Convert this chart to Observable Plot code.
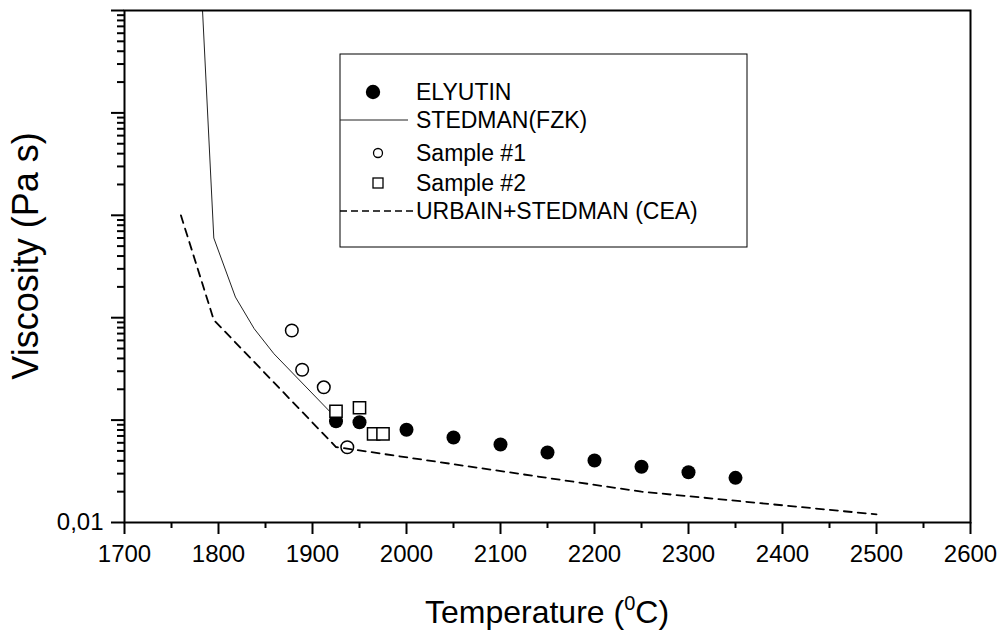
<!DOCTYPE html>
<html>
<head>
<meta charset="utf-8">
<script src="https://cdn.jsdelivr.net/npm/d3@7"></script>
<script src="https://cdn.jsdelivr.net/npm/@observablehq/plot@0.6"></script>
<style>
  html, body { margin: 0; padding: 0; background: white; }
  svg { display: block; }
</style>
</head>
<body>
<div id="chart"></div>
<script>
// ---- data ----
const elyutinT = [1925, 1950, 2000, 2050, 2100, 2150, 2200, 2250, 2300, 2350];
const elyutinV = [0.0975, 0.0954, 0.0804, 0.0676, 0.0578, 0.0482, 0.0403, 0.0350, 0.0310, 0.0273];

const sample1T = [1878, 1889, 1912, 1937];
const sample1V = [0.75, 0.31, 0.209, 0.0543];

const sample2T = [1925, 1950, 1965, 1975];
const sample2V = [0.122, 0.132, 0.0734, 0.0734];

const stedmanT = [1783, 1795, 1818, 1838, 1859, 1925];
const stedmanV = [1000, 6.0, 1.59, 0.78, 0.444, 0.105];

const urbainT = [1760, 1795, 1925, 2250, 2500];
const urbainV = [10, 0.95, 0.0546, 0.020, 0.012];

const xTicksMajor = [1700, 1800, 1900, 2000, 2100, 2200, 2300, 2400, 2500, 2600];
const xTicksMinor = [1750, 1850, 1950, 2050, 2150, 2250, 2350, 2450, 2550];
const yTicksMajor = [0.01, 0.1, 1, 10, 100, 1000];
const yTickLabels = ["0,01", "", "", "", "", ""];

const legendLabels = ["ELYUTIN", "STEDMAN(FZK)", "Sample #1", "Sample #2", "URBAIN+STEDMAN (CEA)"];

// ---- tables ----
const zip = (T, V) => T.map((t, i) => ({t, v: V[i]}));
const elyutin = zip(elyutinT, elyutinV);
const sample1 = zip(sample1T, sample1V);
const sample2 = zip(sample2T, sample2V);
const stedman = zip(stedmanT, stedmanV);
const urbain = zip(urbainT, urbainV);

const yTicksMinor = [];
for (const d of yTicksMajor.slice(0, -1)) for (let k = 2; k <= 9; k++) yTicksMinor.push(+(d * k).toPrecision(3));

const FONT = "Arial, 'Liberation Sans', Helvetica, sans-serif";

const plot = Plot.plot({
  width: 1004,
  height: 632,
  marginLeft: 124,
  marginRight: 34,
  marginTop: 10,
  marginBottom: 110,
  style: {fontFamily: FONT, fontSize: "24px", color: "black", background: "white"},
  x: {domain: [1700, 2600]},
  y: {type: "log", domain: [0.01, 1000]},
  marks: [
    Plot.line(urbain, {x: "t", y: "v", stroke: "black", strokeWidth: 1.8, strokeDasharray: "8,6"}),
    Plot.line(stedman, {x: "t", y: "v", stroke: "#222", strokeWidth: 1}),
    Plot.dot(elyutin, {x: "t", y: "v", r: 7, fill: "black", stroke: "none"}),
    Plot.dot(sample2, {x: "t", y: "v", symbol: "square", r: 6.9, fill: "white", stroke: "black", strokeWidth: 1.5}),
    Plot.dot(sample1, {x: "t", y: "v", r: 6.3, fill: "none", stroke: "black", strokeWidth: 1.5}),
    Plot.axisX({ticks: xTicksMajor, tickSize: 12, tickPadding: 10, tickFormat: d => String(d), strokeWidth: 2, fontSize: 24, label: null}),
    Plot.axisX({ticks: xTicksMinor, tickSize: 6, tickFormat: () => "", strokeWidth: 2, label: null}),
    Plot.axisY({ticks: yTicksMajor, tickSize: 13, tickPadding: 8, tickFormat: d => yTickLabels[yTicksMajor.indexOf(d)], strokeWidth: 2, fontSize: 24, label: null}),
    Plot.axisY({ticks: yTicksMinor, tickSize: 7, tickFormat: () => "", strokeWidth: 2, label: null}),
    Plot.frame({stroke: "black", strokeWidth: 2})
  ]
});

document.getElementById("chart").appendChild(plot);

// ---- axis titles and legend (drawn into the same SVG) ----
const svg = d3.select(plot);

const xt = svg.append("text")
  .attr("x", 547).attr("y", 623)
  .attr("text-anchor", "middle")
  .attr("font-family", FONT).attr("font-size", 32).attr("fill", "black");
xt.append("tspan").text("Temperature (");
xt.append("tspan").attr("font-size", 20).attr("dy", -13).text("0");
xt.append("tspan").attr("dy", 13).text("C)");

svg.append("text")
  .attr("transform", "translate(38,256) rotate(-90)")
  .attr("text-anchor", "middle")
  .attr("font-family", FONT).attr("font-size", 36).attr("fill", "black")
  .text("Viscosity (Pa s)");

const lg = svg.append("g");
lg.append("rect").attr("x", 340).attr("y", 54).attr("width", 407).attr("height", 193)
  .attr("fill", "white").attr("stroke", "black").attr("stroke-width", 1);
const rowsY = [92, 120, 153, 183, 211];
legendLabels.forEach((lab, i) => {
  lg.append("text").attr("x", 416).attr("y", rowsY[i]).attr("dy", "0.36em")
    .attr("text-anchor", "start")
    .attr("font-family", FONT).attr("font-size", 23).attr("fill", "black").text(lab);
});
lg.append("circle").attr("cx", 373).attr("cy", rowsY[0]).attr("r", 7.2).attr("fill", "black");
lg.append("line").attr("x1", 340).attr("x2", 408).attr("y1", rowsY[1]).attr("y2", rowsY[1])
  .attr("stroke", "#222").attr("stroke-width", 1);
lg.append("circle").attr("cx", 378).attr("cy", rowsY[2]).attr("r", 4.5)
  .attr("fill", "none").attr("stroke", "black").attr("stroke-width", 1.3);
lg.append("rect").attr("x", 373).attr("y", rowsY[3] - 5).attr("width", 10).attr("height", 10)
  .attr("fill", "white").attr("stroke", "black").attr("stroke-width", 1.3);
lg.append("line").attr("x1", 340).attr("x2", 413).attr("y1", rowsY[4]).attr("y2", rowsY[4])
  .attr("stroke", "black").attr("stroke-width", 1.3).attr("stroke-dasharray", "7,4");
</script>
</body>
</html>
